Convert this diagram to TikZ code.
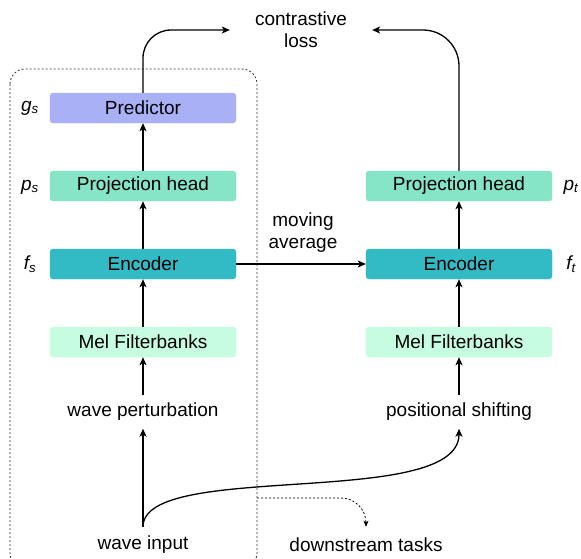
\documentclass[tikz,border=0pt]{standalone}
\usepackage{fontspec}
\setmainfont{Liberation Sans}
\usetikzlibrary{arrows.meta}
\definecolor{predc}{RGB}{170,176,245}
\definecolor{projc}{RGB}{134,229,198}
\definecolor{encc}{RGB}{51,187,197}
\definecolor{melc}{RGB}{198,252,224}
\begin{document}
\begin{tikzpicture}[x=1pt,y=-1pt,
  block/.style={rounded corners=3pt, minimum width=186pt, minimum height=30pt, inner sep=0pt, font=\fontsize{19}{22}\selectfont},
  txt/.style={inner sep=0pt, minimum height=33pt, font=\fontsize{19}{22}\selectfont, align=center},
  lbl/.style={inner sep=0pt, font=\fontsize{19}{22}\selectfont\itshape},
  arr/.style={line width=1.3pt, -{Stealth[length=8pt,width=7pt,inset=2pt]}},
  dotarr/.style={line width=0.8pt, dash pattern=on 2pt off 2pt, -{Stealth[length=6pt,width=5pt,inset=1.5pt]}},
  dotbox/.style={line width=0.8pt, dash pattern=on 2pt off 2pt, draw=black!80},
]
\useasboundingbox (0,0) rectangle (581,558);
\begin{scope}
  \clip (0,0) rectangle (581,558);
  \draw[dotbox, rounded corners=15pt] (10,69) rectangle (257,568);
\end{scope}

% left column
\node[block, fill=predc, draw=predc] (pred) at (143,108) {Predictor};
\node[block, fill=projc, draw=projc] (projL) at (143,186) {Projection head};
\node[block, fill=encc, draw=encc] (encL) at (143,264) {Encoder};
\node[block, fill=melc, draw=melc] (melL) at (143,342) {Mel Filterbanks};
\node[txt] (pert) at (143,412) {wave perturbation};
\node[txt, minimum height=36pt] (input) at (143,545) {wave input};

% right column
\node[block, fill=projc, draw=projc] (projR) at (459,186) {Projection head};
\node[block, fill=encc, draw=encc] (encR) at (459,264) {Encoder};
\node[block, fill=melc, draw=melc] (melR) at (459,342) {Mel Filterbanks};
\node[txt] (shift) at (459,412) {positional shifting};

% other texts
\node[txt] (loss) at (301,30) {contrastive\\loss};
\node[txt] (mavg) at (303,233) {moving\\average};
\node[txt, minimum height=36pt] (down) at (366,545) {downstream tasks};

% side labels
\node[lbl] (gs) at (30,108) {g\textsubscript{s}};
\node[lbl] (ps) at (30,187) {p\textsubscript{s}};
\node[lbl] (fs) at (30,264) {f\textsubscript{s}};
\node[lbl] (pt) at (571,187) {p\textsubscript{t}};
\node[lbl] (ft) at (571,264) {f\textsubscript{t}};

% arrows
\draw[arr] (projL) -- (pred);
\draw[arr] (encL) -- (projL);
\draw[arr] (melL) -- (encL);
\draw[arr] (pert) -- (melL);
\draw[arr] (input) -- (pert);
\draw[arr] (encR) -- (projR);
\draw[arr] (melR) -- (encR);
\draw[arr] (shift) -- (melR);
\draw[arr] (encL) -- (encR);
\draw[arr, rounded corners=28pt] (pred.north) |- ([xshift=-25pt]loss.west);
\draw[arr, rounded corners=36pt] (projR.north) |- ([xshift=25pt]loss.east);
\draw[arr] (input.north) .. controls (143,460) and (459,510) .. (shift.south);
\coordinate (dsrc) at (257,498);
\draw[dotarr, rounded corners=25pt] (dsrc) -| (down.north);
\end{tikzpicture}
\end{document}
